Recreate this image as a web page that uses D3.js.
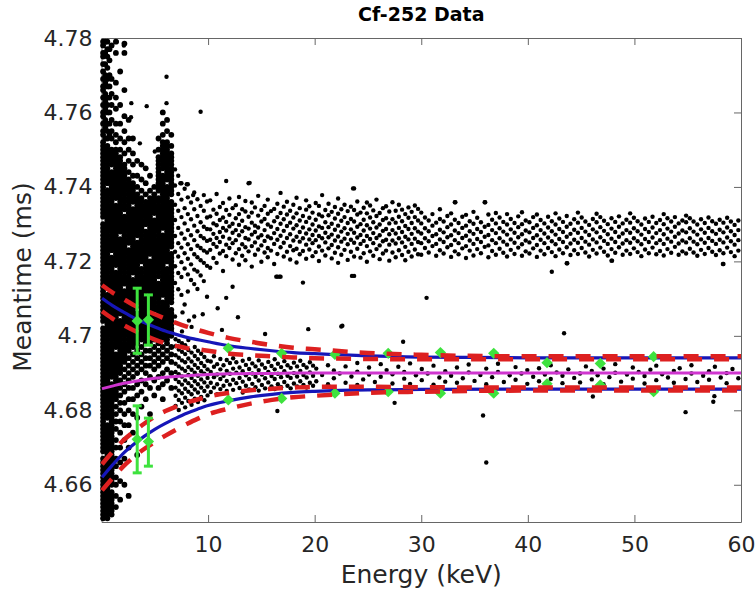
<!DOCTYPE html>
<html><head><meta charset="utf-8">
<script src="https://cdn.jsdelivr.net/npm/d3@7"></script>
<style>body{margin:0;background:#fff}</style>
</head><body><svg id="c" width="756" height="590"></svg>
<script>
const chartTitle = "Cf-252 Data", xLabel = "Energy (keV)", yLabel = "Meantime (ms)";
const xTicks = [10, 20, 30, 40, 50, 60];
const yTicks = [4.66, 4.68, 4.7, 4.72, 4.74, 4.76, 4.78];
const yTickLabels = ["4.66", "4.68", "4.7", "4.72", "4.74", "4.76", "4.78"];

// dense low-energy events: [energy, meantime, meantime, ...]
const coreCols = [
[0.15,4.651,4.652,4.653,4.654,4.655,4.656,4.657,4.658,4.659,4.660,4.661,4.662,4.663,4.664,4.665,4.666,4.667,4.669,4.670,4.671,4.672,4.673,4.674,4.675,4.676,4.677,4.678,4.679,4.680,4.681,4.682,4.683,4.684,4.685,4.686,4.687,4.688,4.689,4.690,4.691,4.692,4.693,4.694,4.695,4.696,4.697,4.698,4.699,4.700,4.701,4.702,4.704,4.705,4.706,4.707,4.708,4.709,4.710,4.711,4.712,4.713,4.714,4.715,4.716,4.717,4.718,4.719,4.720,4.721,4.722,4.723,4.724,4.725,4.726,4.727,4.728,4.729,4.730,4.732,4.733,4.734,4.735,4.736,4.737,4.738,4.739,4.740,4.741,4.742,4.743,4.744,4.745,4.746,4.747,4.748,4.749,4.750,4.751,4.752,4.754,4.755,4.757,4.759,4.760,4.762,4.764,4.766,4.767,4.769,4.771,4.773,4.775,4.776,4.778,4.779],
[0.35,4.753,4.756,4.758,4.761,4.763,4.765,4.768,4.770,4.773,4.776,4.779],
[0.55,4.651,4.652,4.653,4.654,4.655,4.656,4.657,4.658,4.659,4.660,4.661,4.662,4.663,4.664,4.665,4.666,4.667,4.668,4.669,4.670,4.671,4.672,4.673,4.674,4.675,4.676,4.678,4.679,4.680,4.681,4.682,4.683,4.684,4.685,4.686,4.687,4.688,4.689,4.690,4.691,4.692,4.693,4.694,4.695,4.696,4.697,4.698,4.699,4.700,4.701,4.702,4.703,4.704,4.705,4.706,4.707,4.708,4.709,4.710,4.711,4.713,4.714,4.715,4.716,4.717,4.718,4.719,4.720,4.721,4.722,4.723,4.724,4.725,4.726,4.727,4.728,4.729,4.730,4.731,4.732,4.733,4.734,4.735,4.736,4.737,4.738,4.739,4.741,4.742,4.743,4.744,4.745,4.746,4.747,4.748,4.749,4.750,4.751,4.753,4.755,4.757,4.760,4.762,4.764,4.767,4.769,4.772,4.775,4.777,4.779],
[0.75,4.754,4.757,4.760,4.764,4.767,4.770,4.774,4.777],
[0.95,4.652,4.653,4.654,4.655,4.656,4.657,4.658,4.660,4.661,4.662,4.663,4.664,4.665,4.666,4.667,4.668,4.669,4.670,4.671,4.672,4.673,4.674,4.675,4.676,4.677,4.678,4.679,4.680,4.681,4.682,4.683,4.684,4.685,4.686,4.687,4.689,4.690,4.691,4.692,4.693,4.694,4.695,4.696,4.697,4.698,4.699,4.700,4.701,4.702,4.703,4.704,4.705,4.706,4.707,4.708,4.709,4.710,4.711,4.712,4.713,4.714,4.715,4.716,4.717,4.718,4.719,4.720,4.721,4.723,4.724,4.725,4.726,4.727,4.728,4.729,4.730,4.731,4.732,4.733,4.734,4.735,4.736,4.737,4.738,4.739,4.740,4.741,4.742,4.743,4.744,4.746,4.747,4.748,4.749,4.750,4.753,4.755,4.758,4.762,4.765,4.769,4.778],
[1.35,4.654,4.657,4.660,4.662,4.665,4.667,4.670,4.672,4.675,4.677,4.679,4.681,4.683,4.684,4.685,4.686,4.687,4.688,4.689,4.690,4.691,4.692,4.693,4.694,4.695,4.697,4.698,4.699,4.700,4.701,4.702,4.703,4.704,4.705,4.706,4.707,4.708,4.709,4.710,4.711,4.712,4.713,4.714,4.715,4.716,4.717,4.719,4.720,4.721,4.722,4.723,4.724,4.725,4.726,4.727,4.728,4.729,4.730,4.731,4.732,4.733,4.734,4.735,4.737,4.738,4.739,4.740,4.741,4.742,4.743,4.744,4.745,4.746,4.747,4.748,4.749,4.750,4.752,4.754,4.757,4.761,4.764,4.768,4.776,4.779],
[1.75,4.656,4.661,4.666,4.670,4.674,4.677,4.680,4.682,4.684,4.686,4.688,4.690,4.691,4.692,4.693,4.694,4.695,4.696,4.697,4.698,4.699,4.700,4.701,4.702,4.703,4.704,4.706,4.707,4.708,4.709,4.710,4.711,4.712,4.713,4.714,4.715,4.716,4.717,4.718,4.719,4.720,4.721,4.722,4.723,4.724,4.725,4.726,4.728,4.729,4.730,4.731,4.732,4.733,4.734,4.735,4.736,4.737,4.738,4.739,4.740,4.741,4.742,4.743,4.744,4.745,4.746,4.747,4.748,4.750,4.753,4.757,4.762,4.771],
[2.15,4.660,4.667,4.672,4.676,4.679,4.682,4.685,4.687,4.689,4.691,4.693,4.694,4.695,4.696,4.697,4.698,4.699,4.700,4.701,4.702,4.703,4.704,4.705,4.706,4.707,4.708,4.709,4.710,4.711,4.712,4.714,4.715,4.716,4.717,4.718,4.719,4.720,4.721,4.722,4.723,4.724,4.725,4.726,4.727,4.728,4.729,4.730,4.731,4.732,4.734,4.735,4.736,4.737,4.738,4.739,4.740,4.741,4.742,4.743,4.744,4.745,4.746,4.749,4.752,4.755,4.759,4.766,4.776,4.7785],
[2.55,4.657,4.670,4.676,4.680,4.683,4.686,4.688,4.690,4.692,4.694,4.696,4.697,4.698,4.699,4.700,4.701,4.702,4.703,4.704,4.705,4.706,4.707,4.708,4.710,4.711,4.712,4.713,4.714,4.715,4.716,4.717,4.718,4.719,4.720,4.721,4.722,4.723,4.725,4.726,4.727,4.728,4.729,4.730,4.731,4.732,4.733,4.734,4.735,4.736,4.737,4.738,4.739,4.740,4.741,4.742,4.744,4.747,4.750,4.753,4.758],
[2.95,4.674,4.679,4.683,4.686,4.689,4.691,4.693,4.695,4.697,4.698,4.699,4.700,4.701,4.702,4.703,4.704,4.705,4.706,4.707,4.708,4.709,4.710,4.711,4.712,4.713,4.714,4.715,4.717,4.718,4.719,4.720,4.721,4.722,4.723,4.724,4.725,4.726,4.727,4.728,4.729,4.730,4.731,4.732,4.733,4.734,4.736,4.737,4.738,4.739,4.740,4.741,4.743,4.746,4.749,4.753],
[3.35,4.668,4.678,4.684,4.687,4.690,4.692,4.694,4.696,4.698,4.699,4.700,4.701,4.702,4.703,4.704,4.705,4.706,4.708,4.709,4.710,4.711,4.712,4.713,4.714,4.715,4.716,4.717,4.718,4.719,4.720,4.721,4.722,4.723,4.724,4.725,4.727,4.728,4.729,4.730,4.731,4.732,4.733,4.734,4.735,4.736,4.737,4.738,4.740,4.743,4.747],
[3.75,4.681,4.685,4.688,4.691,4.693,4.695,4.697,4.699,4.700,4.701,4.702,4.703,4.704,4.705,4.706,4.707,4.708,4.709,4.710,4.711,4.712,4.713,4.714,4.715,4.716,4.717,4.718,4.720,4.721,4.722,4.723,4.724,4.725,4.726,4.727,4.728,4.729,4.730,4.731,4.732,4.733,4.734,4.735,4.736,4.737,4.739,4.742,4.746],
[4.15,4.683,4.687,4.690,4.692,4.694,4.696,4.698,4.699,4.700,4.701,4.702,4.703,4.704,4.705,4.706,4.707,4.708,4.709,4.710,4.712,4.713,4.714,4.715,4.716,4.717,4.718,4.719,4.720,4.721,4.722,4.723,4.724,4.725,4.726,4.727,4.728,4.730,4.731,4.732,4.733,4.734,4.735,4.736,4.738,4.741,4.745],
[4.55,4.679,4.686,4.689,4.692,4.694,4.696,4.698,4.699,4.700,4.701,4.702,4.703,4.704,4.705,4.706,4.707,4.708,4.709,4.710,4.711,4.712,4.713,4.714,4.715,4.716,4.717,4.718,4.719,4.720,4.722,4.723,4.724,4.725,4.726,4.727,4.728,4.729,4.730,4.731,4.732,4.733,4.734,4.735,4.736,4.737,4.739,4.743],
[4.95,4.684,4.688,4.691,4.693,4.695,4.697,4.699,4.700,4.701,4.702,4.703,4.704,4.705,4.707,4.708,4.709,4.710,4.711,4.712,4.713,4.714,4.715,4.716,4.717,4.718,4.719,4.720,4.721,4.722,4.723,4.724,4.725,4.726,4.727,4.728,4.729,4.730,4.731,4.733,4.734,4.735,4.736,4.737,4.738,4.740],
[5.35,4.686,4.689,4.692,4.694,4.696,4.698,4.699,4.700,4.701,4.702,4.703,4.704,4.705,4.706,4.707,4.708,4.709,4.710,4.711,4.712,4.713,4.714,4.716,4.717,4.718,4.719,4.720,4.721,4.722,4.723,4.724,4.725,4.726,4.727,4.728,4.729,4.730,4.731,4.732,4.733,4.734,4.735,4.736,4.737,4.739,4.740,4.741,4.742,4.743,4.744,4.745,4.746,4.747,4.748,4.750,4.753],
[5.75,4.683,4.687,4.690,4.693,4.695,4.697,4.699,4.700,4.701,4.702,4.703,4.704,4.705,4.706,4.707,4.708,4.709,4.711,4.712,4.713,4.714,4.715,4.716,4.717,4.718,4.719,4.720,4.721,4.722,4.723,4.724,4.725,4.726,4.727,4.729,4.730,4.731,4.732,4.733,4.734,4.735,4.736,4.737,4.738,4.739,4.740,4.741,4.742,4.743,4.745,4.746,4.747,4.748,4.749,4.750,4.751,4.752,4.754,4.757,4.760],
[6.15,4.688,4.691,4.694,4.696,4.698,4.699,4.700,4.701,4.702,4.703,4.704,4.705,4.706,4.707,4.708,4.709,4.710,4.711,4.712,4.713,4.714,4.715,4.716,4.717,4.718,4.720,4.721,4.722,4.723,4.724,4.725,4.726,4.727,4.728,4.729,4.730,4.731,4.732,4.733,4.734,4.735,4.736,4.737,4.738,4.739,4.740,4.742,4.743,4.744,4.745,4.746,4.747,4.748,4.749,4.750,4.751,4.752,4.755,4.758],
[6.55,4.686,4.690,4.693,4.695,4.697,4.700,4.701,4.702,4.703,4.704,4.705,4.706,4.707,4.709,4.710,4.711,4.712,4.713,4.714,4.715,4.716,4.717,4.718,4.719,4.720,4.721,4.722,4.724,4.725,4.726,4.727,4.728,4.729,4.730,4.731,4.732,4.733,4.734,4.735,4.736,4.738,4.739,4.740,4.741,4.742,4.743,4.744,4.745,4.746,4.747,4.748,4.749,4.751,4.754]
];

// upper (delayed) band: [energy, meantime, ...]
const upperBandCols = [
[6.9,4.7052,4.7142,4.7187,4.7226,4.7268,4.7311,4.7352,4.7404,4.7447],
[7.2,4.7125,4.7169,4.7213,4.7249,4.7290,4.7336,4.7381,4.7430],
[7.5,4.7110,4.7158,4.7198,4.7237,4.7275,4.7319,4.7366,4.7410],
[7.8,4.7084,4.7181,4.7222,4.7261,4.7302,4.7343,4.7395],
[8.1,4.7119,4.7165,4.7207,4.7246,4.7284,4.7327,4.7372,4.7407],
[8.4,4.7150,4.7192,4.7233,4.7270,4.7313,4.7358],
[8.7,4.7052,4.7139,4.7178,4.7219,4.7257,4.7296,4.7340,4.7385],
[9.0,4.7126,4.7173,4.7211,4.7242,4.7281,4.7322,4.7367],
[9.3,4.7162,4.7203,4.7236,4.7268,4.7305,4.7349,4.7602],
[9.6,4.7147,4.7196,4.7229,4.7262,4.7293,4.7336,4.7378],
[9.9,4.7105,4.7188,4.7224,4.7255,4.7287,4.7318,4.7361],
[10.2,4.7183,4.7231,4.7258,4.7286,4.7321,4.7364],
[10.5,4.7209,4.7247,4.7274,4.7302,4.7339],
[10.8,4.7196,4.7239,4.7263,4.7297,4.7328,4.7381],
[11.1,4.7221,4.7252,4.7279,4.7311,4.7346],
[11.4,4.7174,4.7228,4.7266,4.7290,4.7318,4.7357],
[11.7,4.7102,4.7214,4.7245,4.7283,4.7306,4.7338,4.7416],
[12.0,4.7236,4.7261,4.7294,4.7325,4.7369],
[12.3,4.7132,4.7205,4.7249,4.7277,4.7301,4.7343],
[12.6,4.7222,4.7257,4.7284,4.7316,4.7351],
[12.9,4.7191,4.7233,4.7270,4.7298,4.7327,4.7373],
[13.2,4.7215,4.7246,4.7281,4.7309,4.7340],
[13.5,4.7203,4.7238,4.7263,4.7292,4.7334,4.7362],
[13.8,4.7227,4.7259,4.7288,4.7320,4.7410],
[14.1,4.7186,4.7241,4.7272,4.7304,4.7331,4.7358],
[14.4,4.7218,4.7251,4.7279,4.7296,4.7345],
[14.7,4.7232,4.7264,4.7291,4.7323,4.7376],
[15.0,4.7199,4.7243,4.7270,4.7307,4.7338],
[15.3,4.7224,4.7255,4.7284,4.7314,4.7349],
[15.6,4.7211,4.7236,4.7267,4.7299,4.7328,4.7366],
[15.9,4.7229,4.7262,4.7293,4.7335],
[16.2,4.7193,4.7247,4.7276,4.7308,4.7341],
[16.5,4.7159,4.7220,4.7258,4.7287,4.7319,4.7355],
[16.8,4.7159,4.7238,4.7269,4.7301,4.7330,4.7384],
[17.1,4.7213,4.7250,4.7282,4.7313,4.7347],
[17.4,4.7226,4.7263,4.7295,4.7326,4.7360],
[17.7,4.7205,4.7241,4.7273,4.7304,4.7336],
[18.0,4.7230,4.7256,4.7288,4.7318,4.7352],
[18.3,4.7197,4.7234,4.7266,4.7297,4.7329,4.7371],
[18.6,4.7219,4.7253,4.7279,4.7310,4.7343],
[18.9,4.7143,4.7228,4.7262,4.7291,4.7322],
[19.2,4.7207,4.7245,4.7275,4.7306,4.7339,4.7364],
[19.5,4.7232,4.7259,4.7286,4.7317,4.7348],
[19.8,4.7214,4.7249,4.7271,4.7299,4.7331],
[20.1,4.7225,4.7257,4.7283,4.7312,4.7357],
[20.4,4.7201,4.7240,4.7268,4.7294,4.7326,4.7349],
[20.7,4.7229,4.7262,4.7290,4.7321,4.7378],
[21.0,4.7216,4.7251,4.7277,4.7305,4.7338],
[21.3,4.7235,4.7265,4.7292,4.7324,4.7355],
[21.6,4.7208,4.7244,4.7272,4.7301,4.7333],
[21.9,4.7223,4.7256,4.7285,4.7315,4.7346],
[22.2,4.7196,4.7238,4.7267,4.7296,4.7328,4.7369],
[22.5,4.7218,4.7253,4.7280,4.7309,4.7340],
[22.8,4.7231,4.7261,4.7289,4.7319,4.7352],
[23.1,4.7204,4.7246,4.7274,4.7303,4.7335],
[23.4,4.7226,4.7258,4.7286,4.7314,4.7347],
[23.7,4.7161,4.7213,4.7250,4.7277,4.7307,4.7338,4.7396],
[24.0,4.7234,4.7264,4.7293,4.7326,4.7361],
[24.3,4.7210,4.7247,4.7271,4.7300,4.7331],
[24.6,4.7222,4.7255,4.7283,4.7312,4.7344],
[24.9,4.7199,4.7241,4.7268,4.7297,4.7329,4.7358],
[25.2,4.7227,4.7260,4.7288,4.7318,4.7350],
[25.5,4.7215,4.7249,4.7276,4.7305,4.7337],
[25.8,4.7233,4.7263,4.7291,4.7322,4.7366],
[26.1,4.7206,4.7243,4.7270,4.7299,4.7330],
[26.4,4.7221,4.7254,4.7282,4.7311,4.7343],
[26.7,4.7229,4.7258,4.7287,4.7316,4.7348],
[27.0,4.7202,4.7245,4.7273,4.7302,4.7334],
[27.3,4.7224,4.7256,4.7284,4.7313,4.7359],
[27.6,4.7211,4.7248,4.7275,4.7304,4.7336],
[27.9,4.7230,4.7262,4.7290,4.7320,4.7352],
[28.2,4.7217,4.7251,4.7279,4.7308,4.7339],
[28.5,4.7203,4.7239,4.7266,4.7295,4.7327],
[28.8,4.7226,4.7259,4.7287,4.7317,4.7345],
[29.1,4.7213,4.7247,4.7274,4.7303,4.7333],
[29.4,4.7232,4.7261,4.7289,4.7319,4.7350],
[29.7,4.7219,4.7252,4.7280,4.7310,4.7341],
[30.0,4.7218,4.7249,4.7275,4.7302,4.7331],
[30.35,4.7236,4.7262,4.7289,4.7318],
[30.7,4.7224,4.7254,4.7281,4.7310],
[31.05,4.7241,4.7268,4.7296,4.7327],
[31.4,4.7215,4.7247,4.7273,4.7304],
[31.75,4.7230,4.7259,4.7285,4.7314,4.7340],
[32.1,4.7221,4.7252,4.7278,4.7307],
[32.45,4.7238,4.7265,4.7292,4.7322],
[32.8,4.7212,4.7244,4.7270,4.7299,4.7329],
[33.15,4.7227,4.7257,4.7283,4.7312,4.7359],
[33.5,4.7219,4.7249,4.7276,4.7303],
[33.85,4.7235,4.7263,4.7290,4.7320],
[34.2,4.7209,4.7241,4.7269,4.7296,4.7325],
[34.55,4.7229,4.7256,4.7281,4.7308],
[34.9,4.7216,4.7247,4.7274,4.7301,4.7333],
[35.25,4.7233,4.7260,4.7287,4.7317],
[35.6,4.7222,4.7252,4.7279,4.7305],
[35.95,4.7239,4.7266,4.7293,4.7359],
[36.3,4.7211,4.7243,4.7271,4.7298,4.7326],
[36.65,4.7228,4.7257,4.7284,4.7312],
[37.0,4.7218,4.7249,4.7276,4.7302,4.7330],
[37.35,4.7234,4.7262,4.7289,4.7318],
[37.7,4.7223,4.7253,4.7280,4.7306],
[38.05,4.7213,4.7245,4.7272,4.7299,4.7327],
[38.4,4.7231,4.7259,4.7286,4.7314],
[38.75,4.7220,4.7250,4.7277,4.7303],
[39.1,4.7237,4.7265,4.7292,4.7321],
[39.45,4.7215,4.7246,4.7273,4.7300,4.7332],
[39.8,4.7227,4.7256,4.7283,4.7310],
[40.15,4.7221,4.7251,4.7278,4.7305],
[40.5,4.7235,4.7263,4.7290,4.7319],
[40.85,4.7212,4.7244,4.7270,4.7297,4.7326],
[41.2,4.7229,4.7258,4.7284,4.7311],
[41.55,4.7219,4.7249,4.7275,4.7302],
[41.9,4.7236,4.7264,4.7291,4.7320],
[42.25,4.7172,4.7225,4.7254,4.7281,4.7308],
[42.6,4.7214,4.7246,4.7272,4.7299,4.7329],
[42.95,4.7232,4.7260,4.7287,4.7315],
[43.3,4.7222,4.7252,4.7279,4.7306],
[43.65,4.7195,4.7238,4.7266,4.7293,4.7322],
[44.0,4.7217,4.7248,4.7274,4.7301],
[44.35,4.7230,4.7258,4.7285,4.7313],
[44.7,4.7220,4.7250,4.7277,4.7304,4.7331],
[45.05,4.7236,4.7263,4.7290,4.7318],
[45.4,4.7224,4.7253,4.7280,4.7307],
[45.75,4.7213,4.7245,4.7271,4.7298],
[46.1,4.7231,4.7259,4.7286,4.7314],
[46.45,4.7221,4.7251,4.7278,4.7305,4.7328],
[46.8,4.7237,4.7265,4.7292,4.7319],
[47.15,4.7226,4.7255,4.7282,4.7309],
[47.5,4.7216,4.7247,4.7273,4.7300],
[47.85,4.7202,4.7233,4.7261,4.7288,4.7316],
[48.2,4.7223,4.7252,4.7279,4.7306],
[48.55,4.7238,4.7266,4.7293,4.7321],
[48.9,4.7218,4.7248,4.7275,4.7302],
[49.25,4.7229,4.7257,4.7284,4.7312],
[49.6,4.7220,4.7250,4.7277,4.7304,4.7329],
[49.95,4.7235,4.7262,4.7289,4.7317],
[50.3,4.7225,4.7254,4.7281,4.7308],
[50.65,4.7214,4.7246,4.7272,4.7299],
[51.0,4.7232,4.7260,4.7287,4.7315],
[51.35,4.7222,4.7252,4.7279,4.7306],
[51.7,4.7237,4.7264,4.7291,4.7320],
[52.05,4.7219,4.7249,4.7276,4.7303],
[52.4,4.7228,4.7257,4.7284,4.7311],
[52.75,4.7216,4.7247,4.7273,4.7300,4.7327],
[53.1,4.7233,4.7261,4.7288,4.7316],
[53.45,4.7223,4.7253,4.7280,4.7307],
[53.8,4.7239,4.7266,4.7293,4.7319],
[54.15,4.7218,4.7248,4.7275,4.7302],
[54.5,4.7227,4.7256,4.7283,4.7310],
[54.85,4.7221,4.7251,4.7278,4.7305,4.7323],
[55.2,4.7234,4.7262,4.7289,4.7316],
[55.55,4.7224,4.7253,4.7280,4.7307],
[55.9,4.7215,4.7246,4.7272,4.7299],
[56.25,4.7231,4.7259,4.7286,4.7313],
[56.6,4.7220,4.7250,4.7277,4.7303],
[56.95,4.7236,4.7263,4.7290,4.7318],
[57.3,4.7226,4.7255,4.7281,4.7308],
[57.65,4.7217,4.7247,4.7274,4.7301],
[58.0,4.7230,4.7258,4.7285,4.7312],
[58.35,4.7193,4.7222,4.7251,4.7278,4.7304],
[58.7,4.7237,4.7264,4.7291,4.7317],
[59.05,4.7225,4.7254,4.7281,4.7307],
[59.4,4.7214,4.7245,4.7271,4.7298],
[59.75,4.7229,4.7257,4.7284,4.7310]
];

// lower (prompt) band: [energy, meantime, ...]
const lowerBandCols = [
[6.95,4.6812,4.6839,4.6861,4.6884,4.6903,4.6925,4.6948,4.6972,4.6991],
[7.25,4.6801,4.6828,4.6853,4.6876,4.6897,4.6918,4.6941,4.6963,4.6986],
[7.55,4.6820,4.6846,4.6869,4.6891,4.6912,4.6934,4.6957,4.6980,4.7012],
[7.85,4.6808,4.6834,4.6858,4.6880,4.6906,4.6929,4.6951,4.6975],
[8.15,4.6825,4.6850,4.6873,4.6895,4.6916,4.6939,4.6962,4.6989],
[8.45,4.6815,4.6843,4.6865,4.6887,4.6909,4.6931,4.6955,4.7024],
[8.75,4.6831,4.6856,4.6878,4.6901,4.6922,4.6946,4.6970],
[9.05,4.6822,4.6848,4.6870,4.6893,4.6914,4.6937,4.6960],
[9.35,4.6836,4.6861,4.6883,4.6905,4.6927,4.6952],
[9.65,4.6827,4.6852,4.6875,4.6898,4.6919,4.6943],
[9.95,4.6840,4.6864,4.6887,4.6910,4.6933],
[10.25,4.6849,4.6874,4.6903,4.6931],
[10.55,4.6861,4.6889,4.6917,4.6945],
[10.85,4.6843,4.6870,4.6896,4.6924],
[11.15,4.6857,4.6884,4.6910,4.6938],
[11.45,4.6866,4.6893,4.6921],
[11.75,4.6852,4.6879,4.6906,4.6935],
[12.05,4.6869,4.6898,4.6927],
[12.35,4.6855,4.6882,4.6912,4.6940],
[12.65,4.6873,4.6901,4.6929],
[12.95,4.6860,4.6887,4.6915],
[13.25,4.6848,4.6877,4.6905,4.6933],
[13.55,4.6866,4.6894,4.6922],
[13.85,4.6856,4.6884,4.6911,4.6938],
[14.15,4.6871,4.6899,4.6926],
[14.45,4.6862,4.6890,4.6918],
[14.75,4.6853,4.6880,4.6908,4.6934],
[15.05,4.6868,4.6896,4.6923],
[15.35,4.6859,4.6886,4.6914,4.7005],
[15.65,4.6875,4.6903,4.6930],
[15.95,4.6864,4.6892,4.6919],
[16.25,4.6857,4.6884,4.6910,4.6937],
[16.55,4.6870,4.6898,4.6925],
[16.85,4.6862,4.6889,4.6916],
[17.15,4.6876,4.6905,4.6932],
[17.45,4.6866,4.6893,4.6921],
[17.75,4.6859,4.6887,4.6914],
[18.05,4.6872,4.6900,4.6928],
[18.35,4.6864,4.6891,4.6918],
[18.65,4.6878,4.6906,4.6933],
[18.95,4.6868,4.6895,4.6922],
[19.25,4.6861,4.6888,4.6915],
[19.55,4.6874,4.6902,4.6929],
[19.85,4.6866,4.6893,4.6920],
[20.15,4.6878,4.6912],[20.7,4.6895],[21.25,4.6870,4.6921],[21.8,4.6886,4.6907],[22.35,4.6899],
[22.9,4.6874,4.6918],[23.45,4.6891],[24.0,4.6868,4.6904,4.6927],[24.55,4.6883],[25.1,4.6896,4.6915],
[25.65,4.6876],[26.2,4.6890,4.6924],[26.75,4.6908],[27.3,4.6872,4.6897],[27.85,4.6917],
[28.4,4.6885,4.6903],[28.95,4.6871,4.6926],[29.5,4.6894],[30.05,4.6881,4.6911],[30.6,4.6899],
[31.15,4.6869,4.6920],[31.7,4.6888],[32.25,4.6877,4.6905],[32.8,4.6893],[33.35,4.6874,4.6915],
[33.9,4.6886],[34.45,4.6902,4.6923],[35.0,4.6879],[35.55,4.6895],[36.1,4.6870,4.6912],
[36.65,4.6889],[37.2,4.6903,4.6925],[37.75,4.6876],[38.3,4.6894],[38.85,4.6882,4.6916],
[39.4,4.6899],[39.95,4.6871,4.6908],[40.5,4.6890],[41.05,4.6878,4.6913],[41.6,4.6896],
[42.15,4.6884,4.6921],[42.7,4.6902],[43.25,4.6873,4.6893],[43.8,4.6910],[44.35,4.6887],
[44.9,4.6875,4.6899],[45.45,4.6918],[46.0,4.6883,4.6906],[46.55,4.6894],[47.1,4.6870,4.6912],
[47.65,4.6889],[48.2,4.6901,4.6924],[48.75,4.6877],[49.3,4.6896],[49.85,4.6885,4.6915],
[50.4,4.6903],[50.95,4.6872,4.6892],[51.5,4.6909],[52.05,4.6881,4.6920],[52.6,4.6897],
[53.15,4.6888],[53.7,4.6874,4.6906],[54.25,4.6913],[54.8,4.6884],[55.35,4.6899,4.6921],
[55.9,4.6876],[56.45,4.6893],[57.0,4.6882,4.6905],[57.55,4.6917],[58.1,4.6888],
[58.65,4.6873,4.6900],[59.2,4.6911],[59.75,4.6886]
];

// isolated events [energy, meantime]
const strayPts = [
[1.43,4.7790],[2.1,4.7780],[2.77,4.7587],[2.8,4.7625],[3.6,4.7517],[4.24,4.7617],[5.0,4.7495],
[6.1,4.7696],[6.1,4.7625],[7.4,4.7410],[8.0,4.7407],[8.6,4.7378],[13.9,4.7411],[23.6,4.7396],
[33.2,4.7359],[36.0,4.7359],[23.5,4.7161],[30.5,4.7102],[16.4,4.7159],[16.7,4.7159],
[22.5,4.7025],[43.7,4.7195],[47.9,4.7202],[58.3,4.7193],[19.4,4.7018],[22.6,4.7027],
[11.3,4.7016],[28.3,4.6984],[16.5,4.6798],[27.5,4.6820],[43.4,4.7007],[35.8,4.6786],
[36.1,4.6660],[46.1,4.6837],[54.8,4.6795],[57.4,4.6823],[57.5,4.6838],[7.6,4.7063],
[8.2,4.7041],[9.5,4.7058],[10.9,4.7074],[12.8,4.7050],[2.5,4.6572]
];

// fitted curves sampled along energy
const fitE      = [0.05,1,2,3,4,5,6,7,8,9,10,12,14,16,18,20,25,30,40,50,60];
const fitUpper  = [4.7101,4.7082,4.7065,4.7049,4.7036,4.7024,4.7013,4.7004,4.6996,4.6990,4.6984,4.6973,4.6966,4.6960,4.6955,4.6952,4.6946,4.6943,4.6941,4.6941,4.6941];
const fitLower  = [4.6620,4.6652,4.6683,4.6708,4.6730,4.6749,4.6765,4.6779,4.6792,4.6803,4.6813,4.6826,4.6836,4.6843,4.6848,4.6851,4.6855,4.6856,4.6857,4.6857,4.6857];
const fitMid    = [4.6858,4.6865,4.6872,4.6877,4.6882,4.6886,4.6889,4.6891,4.6893,4.6895,4.6896,4.6898,4.6899,4.6899,4.6900,4.6900,4.6900,4.6900,4.6900,4.6900,4.6900];
const upperHi   = [4.7136,4.7117,4.7100,4.7083,4.7070,4.7058,4.7046,4.7035,4.7025,4.7016,4.7008,4.6994,4.6984,4.6975,4.6968,4.6964,4.6954,4.6949,4.6945,4.6945,4.6945];
const upperLo   = [4.7066,4.7047,4.7030,4.7015,4.7002,4.6990,4.6980,4.6973,4.6967,4.6964,4.6960,4.6952,4.6948,4.6945,4.6942,4.6940,4.6938,4.6937,4.6937,4.6937,4.6937];
const lowerHi   = [4.6655,4.6687,4.6718,4.6742,4.6764,4.6783,4.6798,4.6810,4.6821,4.6829,4.6837,4.6847,4.6854,4.6858,4.6861,4.6863,4.6863,4.6862,4.6861,4.6861,4.6861];
const lowerLo   = [4.6585,4.6617,4.6648,4.6674,4.6696,4.6715,4.6732,4.6748,4.6763,4.6777,4.6789,4.6805,4.6818,4.6828,4.6835,4.6839,4.6847,4.6850,4.6853,4.6853,4.6853];

// binned means (green diamonds)
const markE     = [11.9,16.9,21.9,26.9,31.8,36.8,41.8,46.8,51.8];
const markUpper = [4.6967,4.6953,4.6950,4.6953,4.6955,4.6953,4.6928,4.6926,4.6944];
const markLower = [4.6828,4.6832,4.6846,4.6850,4.6846,4.6846,4.6871,4.6868,4.6850];

// error bars at low energy
const errE        = [3.35,4.4];
const errUpperMid = [4.7040,4.7043];
const errUpperTop = [4.7128,4.7110];
const errUpperBot = [4.6953,4.6975];
const errLowerMid = [4.6722,4.6716];
const errLowerTop = [4.6812,4.6779];
const errLowerBot = [4.6632,4.6650];

const svg = d3.select("#c");
const W = 756, H = 590;
const m = {left: 101.5, right: 15, top: 38, bottom: 68};
const x = d3.scaleLinear().domain([0, 60]).range([m.left, W - m.right]);
const y = d3.scaleLinear().domain([4.65, 4.78]).range([H - m.bottom, m.top]);
const FONT = "'DejaVu Sans', sans-serif";
const axisCol = "#666", textCol = "#262626";

function styleAxis(g) {
  g.selectAll("path.domain").attr("stroke", axisCol).attr("stroke-width", 1);
  g.selectAll(".tick line").attr("stroke", axisCol).attr("stroke-width", 1);
  g.selectAll(".tick text").attr("fill", textCol).style("font-family", FONT).style("font-size", "22px");
}
const gAx = svg.append("g");
gAx.append("g").attr("transform", `translate(0,${y(4.65)})`)
  .call(d3.axisBottom(x).tickValues(xTicks).tickSizeInner(-7).tickSizeOuter(0).tickPadding(14).tickFormat(d3.format("d")))
  .call(styleAxis);
gAx.append("g").attr("transform", `translate(0,${y(4.78)})`)
  .call(d3.axisTop(x).tickValues(xTicks).tickSizeInner(-7).tickSizeOuter(0).tickFormat(""))
  .call(styleAxis);
gAx.append("g").attr("transform", `translate(${x(0)},0)`)
  .call(d3.axisLeft(y).tickValues(yTicks).tickSizeInner(-7).tickSizeOuter(0).tickPadding(9).tickFormat((d, i) => yTickLabels[i]))
  .call(styleAxis);
gAx.append("g").attr("transform", `translate(${x(60)},0)`)
  .call(d3.axisRight(y).tickValues(yTicks).tickSizeInner(-7).tickSizeOuter(0).tickFormat(""))
  .call(styleAxis);
gAx.selectAll("text").attr("font-size", null);

// scatter (saturated low-energy cluster drawn with slightly larger dots so it reads as solid ink)
const corePts = [], pts = [];
for (const col of coreCols) for (let i = 1; i < col.length; i++) corePts.push([col[0], col[i]]);
for (const col of [...upperBandCols, ...lowerBandCols]) for (let i = 1; i < col.length; i++) pts.push([col[0], col[i]]);
for (const p of strayPts) pts.push(p);
svg.append("g").selectAll("circle").data(corePts).join("circle")
  .attr("cx", d => x(d[0])).attr("cy", d => y(d[1])).attr("r", 2.9).attr("fill", "#000");
svg.append("g").selectAll("circle").data(pts).join("circle")
  .attr("cx", d => x(d[0])).attr("cy", d => y(d[1])).attr("r", 2.2).attr("fill", "#000");

const line = vals => d3.line().x((d, i) => x(fitE[i])).y(d => y(d)).curve(d3.curveMonotoneX)(vals);

svg.append("path").attr("d", line(fitMid)).attr("fill", "none").attr("stroke", "#cf35cf").attr("stroke-width", 3);
for (const v of [fitUpper, fitLower])
  svg.append("path").attr("d", line(v)).attr("fill", "none").attr("stroke", "#1616b8").attr("stroke-width", 3.2);

const green = "#3ee23e";
const diamond = d3.symbol().type(d3.symbolSquare).size(64);
const mk = svg.append("g");
markE.forEach((e, i) => {
  for (const v of [markUpper[i], markLower[i]])
    mk.append("path").attr("d", diamond()).attr("fill", green)
      .attr("transform", `translate(${x(e)},${y(v)}) rotate(45)`);
});

for (const v of [upperHi, upperLo, lowerHi, lowerLo])
  svg.append("path").attr("d", line(v)).attr("fill", "none").attr("stroke", "#dd2020")
    .attr("stroke-width", 4.5).attr("stroke-dasharray", "15,12");

const eb = svg.append("g").attr("stroke", green).attr("stroke-width", 3).attr("fill", "none");
errE.forEach((e, i) => {
  for (const [top, bot, mid] of [[errUpperTop[i], errUpperBot[i], errUpperMid[i]], [errLowerTop[i], errLowerBot[i], errLowerMid[i]]]) {
    eb.append("line").attr("x1", x(e)).attr("x2", x(e)).attr("y1", y(top)).attr("y2", y(bot));
    eb.append("line").attr("x1", x(e) - 4.5).attr("x2", x(e) + 4.5).attr("y1", y(top)).attr("y2", y(top));
    eb.append("line").attr("x1", x(e) - 4.5).attr("x2", x(e) + 4.5).attr("y1", y(bot)).attr("y2", y(bot));
    svg.append("path").attr("d", diamond()).attr("fill", green)
      .attr("transform", `translate(${x(e)},${y(mid)}) rotate(45)`);
  }
});

svg.append("text").attr("x", (x(0) + x(60)) / 2).attr("y", 21).attr("text-anchor", "middle")
  .style("font-family", FONT).style("font-size", "19px").style("font-weight", "bold").attr("fill", "#000").text(chartTitle);
svg.append("text").attr("x", (x(0) + x(60)) / 2).attr("y", 583).attr("text-anchor", "middle")
  .style("font-family", FONT).style("font-size", "25px").attr("fill", textCol).text(xLabel);
svg.append("text").attr("transform", `translate(31,${(y(4.65) + y(4.78)) / 2 - 3}) rotate(-90)`).attr("text-anchor", "middle")
  .style("font-family", FONT).style("font-size", "25px").attr("fill", textCol).text(yLabel);
</script>
</body></html>
